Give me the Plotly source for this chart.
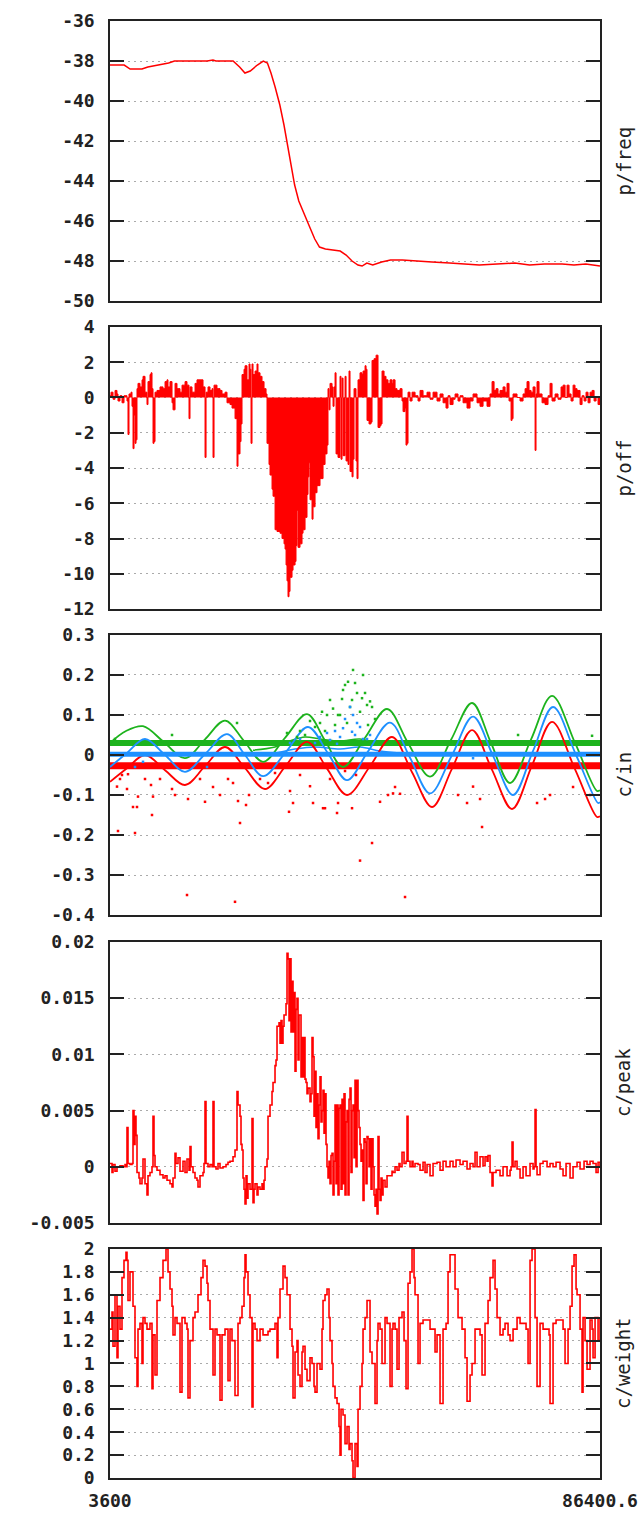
import plotly.graph_objects as go
from plotly.subplots import make_subplots

# ---------------- data ----------------
X_START = 3600
X_END = 86400.6

# panel 1: p/freq
freq_t = [3600, 6000, 7000, 9000, 10000, 12000, 13500, 14500, 20000, 21000, 21500, 24400, 25500, 26400,
          27300, 28500, 29500, 30200, 30800, 31500, 32300, 33000, 33700, 34200, 34800, 35500, 36300, 37200,
          38200, 39000, 40000, 42500, 43500, 44500, 45500, 46200, 47000, 48000, 49500, 51000, 53000, 55000,
          58000, 61000, 64000, 66000, 69000, 72000, 74500, 77000, 80000, 82000, 84000, 86400]
freq_v = [-38.2, -38.2, -38.4, -38.4, -38.3, -38.2, -38.1, -38.0, -38.0, -37.95, -38.0, -38.0, -38.3, -38.6,
          -38.5, -38.2, -38.0, -38.1, -38.6, -39.3, -40.2, -41.2, -42.3, -43.2, -44.2, -45.0, -45.6, -46.2,
          -46.9, -47.3, -47.4, -47.5, -47.7, -48.0, -48.2, -48.25, -48.1, -48.2, -48.05, -47.95, -47.95, -48.0,
          -48.05, -48.1, -48.15, -48.2, -48.15, -48.1, -48.2, -48.15, -48.15, -48.2, -48.15, -48.25]

# panel 2: p/off
off_t = [3600, 3770, 4110, 4450, 4780, 4950, 5290, 5630, 5970, 6470, 6640, 6810, 7150, 7320, 7490, 7660, 7830,
         8000, 8160, 8330, 8670, 9010, 9180, 9520, 9850, 10020, 10360, 10530, 10700, 10870, 11040, 11210, 11540,
         12050, 12560, 12900, 13230, 13400, 13740, 14080, 14250, 14590, 14920, 15430, 15770, 16280, 16610, 16950,
         17120, 17460, 17970, 18300, 18810, 19320, 19660, 19830, 20160, 20500, 20840, 21010, 21180, 21680, 22190,
         22530, 23040, 23370, 23880, 24220, 24730, 25060, 25230, 25570, 25740, 25910, 26250, 26420, 26750, 27090,
         27260, 27430, 27600, 27770, 28110, 28440, 28610, 28950, 29290, 29630, 29970, 30130, 30470, 30640, 30980,
         31150, 31490, 31820, 32330, 32670, 33010, 33180, 33350, 33510, 33680, 33850, 34020, 34360, 34530, 34870,
         35030, 35200, 35370, 35710, 36050, 36220, 36560, 36890, 37060, 37230, 37400, 37740, 37910, 38250, 38580,
         39090, 39600, 39940, 40270, 40440, 40610, 40780, 41120, 41290, 41460, 41630, 41800, 42130, 42470, 42640,
         42810, 42980, 43320, 43490, 43820, 43990, 44160, 44500, 44670, 44840, 45170, 45340, 45510, 45850, 46190,
         46360, 46700, 46870, 47030, 47370, 47710, 47880, 48220, 48560, 48720, 48890, 49230, 49400, 49570, 49910,
         50240, 50580, 50920, 51260, 51430, 51770, 52100, 52610, 52950, 53120, 53460, 53620, 53790, 53960, 54300,
         54640, 55150, 55650, 55990, 56500, 57170, 57680, 58190, 58860, 59370, 59880, 60380, 60720, 61060, 61570,
         61910, 62410, 62750, 63260, 63930, 64440, 64950, 65620, 66130, 66640, 67310, 67820, 68160, 68500, 68830,
         69170, 69510, 70020, 70360, 70690, 71030, 71370, 71540, 71710, 72380, 72890, 73400, 73740, 74070, 74410,
         74750, 75090, 75430, 75590, 75760, 76100, 76610, 77110, 77620, 77960, 78300, 78810, 79310, 79820, 80160,
         80500, 80830, 81170, 81510, 81850, 82180, 82520, 83030, 83370, 83710, 84040, 84380, 84720, 85060, 85400,
         85740, 86070, 86400]
off_v = [0.1, 0.3, -0.1, 0.4, 0.2, -0.2, 0.1, -0.3, 0.1, -0.2, -2.1, 0.2, 0.3, -0.5, -2.9, -1.0, -2.6,
         -2.4, 0.5, 0.8, 0.6, 1.0, 1.2, 0.3, -0.4, 0.9, 1.3, 1.4, 0.5, -2.6, -2.5, 0.3, 0.4,
         0.6, 0.5, 0.9, 1.0, 0.6, 0.9, -0.3, -0.7, 0.8, 0.5, 0.3, 0.7, 0.9, 0.7, -1.2,
         0.6, 0.3, 0.8, 1.0, 1.0, 0.6, -3.4, 0.3, 0.6, 0.4, 0.5, -3.4, 0.7, 0.5, 0.4,
         0.2, 0.3, -0.3, -0.4, -0.6, -1.2, -3.9, -3.2, -2.5, -1.5, 1.3, 1.6, 1.8, 1.0, 1.9,
         1.6, -2.6, 1.9, 1.3, 1.5, 1.9, 1.4, 1.2, 0.9, 0.5, 0.2, -2.6, -3.8, -4.4, -5.2,
         -5.6, -7.5, -7.6, -7.7, -8.0, -8.3, -8.6, -9.5, -10.4, -11.3, -11.0, -10.2, -9.8, -9.5, -9.3,
         -8.4, -6.4, -8.5, -8.3, -7.7, -7.5, -6.8, -5.5, -4.5, -3.7, -5.8, -6.9, -6.2, -5.4, -5.0,
         -4.6, -3.8, -3.2, -2.7, 0.5, -0.7, 0.8, 0.6, -0.5, 0.6, 1.4, -3.2, -3.4, 1.2, -3.5,
         1.1, -3.3, 1.2, -3.6, -3.8, 1.5, -4.2, -4.5, -3.5, 0.5, -3.6, -4.6, 1.0, 1.4, 1.3,
         1.5, 1.8, 1.6, -1.3, -1.5, -1.4, 2.1, 2.2, 2.4, 2.4, -1.7, -1.6, -1.5, 1.5, 1.2,
         1.0, 0.8, 1.0, 0.8, 1.0, 0.5, 0.4, 0.5, -0.2, -0.8, -0.6, -2.7, -2.6, 0.3, -0.2,
         0.3, 0.1, -0.2, 0.4, 0.1, 0.3, -0.1, 0.3, -0.2, 0.2, -0.3, -0.6, 0.1, -0.4, -0.1,
         0.2, -0.2, 0.1, -0.3, -0.6, -0.2, 0.2, -0.3, -0.5, -0.2, -0.5, 0.2, 0.9, 0.4, 0.5,
         0.2, 0.4, 0.6, 0.3, 0.8, -0.2, -1.3, -1.2, 0.2, 0.0, -0.2, 0.2, 0.5, 0.9, 0.4,
         0.3, 0.6, -3.0, 0.2, 0.9, 0.2, -0.3, -0.4, 0.1, 0.8, -0.2, 0.2, -0.1, 0.6, 0.7,
         0.0, 0.7, 0.2, -0.2, 0.7, 0.5, 0.4, -0.4, 0.1, -0.2, 0.3, -0.3, 0.3, 0.4, -0.2,
         0.0, -0.4, -0.2]

# panel 3: c/in  (three channels: wave, flat band, scattered samples)
in_green_t = [3600, 6304, 9177, 12726, 16275, 19655, 23035, 26246, 29457, 33175, 36893, 39935, 42977,
              46695, 50413, 53962, 57680, 61229, 64778, 67989, 71200, 74749, 78298, 82185, 85903, 86400]
in_green_v = [0.03, 0.06, 0.072, 0.032, -0.008, 0.039, 0.086, 0.035, -0.017, 0.043, 0.102, 0.036, -0.03,
              0.043, 0.115, 0.03, -0.054, 0.038, 0.13, 0.03, -0.07, 0.039, 0.148, 0.03, -0.09, -0.088]
in_blue_t = [3600, 6473, 9515, 12895, 16275, 19824, 23373, 26415, 29457, 33344, 37062, 40442, 43653,
             47202, 50920, 54300, 57680, 61398, 64947, 68327, 71707, 75087, 78467, 82354, 86072, 86400]
in_blue_v = [-0.03, 0.005, 0.04, 0.0, -0.042, 0.005, 0.052, 0.0, -0.053, 0.008, 0.07, 0.004, -0.063,
             0.009, 0.081, -0.007, -0.096, 0.0, 0.096, -0.002, -0.1, 0.01, 0.12, 0.0, -0.12, -0.118]
in_red_t = [3600, 6473, 9515, 12895, 16275, 19655, 23035, 26415, 29795, 33344, 36893, 40273, 43653,
            47540, 51258, 54638, 58018, 61398, 64778, 68158, 71538, 74918, 78298, 82185, 85903, 86400]
in_red_v = [-0.067, -0.033, 0.0, -0.038, -0.075, -0.028, 0.02, -0.033, -0.085, -0.026, 0.033, -0.034, -0.1,
            -0.028, 0.045, -0.043, -0.13, -0.034, 0.062, -0.037, -0.135, -0.026, 0.083, -0.036, -0.155, -0.153]

band_t = [3600, 86400.6]
green_band_v = [0.03, 0.03]
blue_band_v = [0.002, 0.002]
red_band_v = [-0.027, -0.027]

green_mid_t = [27767, 31485, 34020, 36555, 39090, 42470, 45850, 48385]
green_mid_v = [0.012, 0.02, 0.035, 0.045, 0.04, 0.035, 0.04, 0.03]
blue_mid_t = [27767, 31485, 34865, 38245, 42470, 45850, 49230, 52610]
blue_mid_v = [0.0, 0.005, 0.015, 0.02, 0.015, 0.02, 0.01, 0.005]

red_dot_t = [4783, 4952, 6473, 7487, 8163, 7825, 8332, 10698, 10867, 10529, 14078, 16782, 16613, 19655,
             21007, 22190, 24387, 24725, 25232, 25570, 26584, 27091, 33851, 34020, 34527, 37907, 37400,
             39597, 41963, 44498, 45850, 47878, 49230, 53455, 51427, 52610, 66468, 63933, 64947, 39935,
             42132, 50582, 75763, 77960, 51765, 62412, 81847, 12050, 14585, 28950, 31485, 35710, 40780,
             45174, 5290, 5628, 6642, 9515, 18810, 23542, 30302, 43315, 66130, 77115, 84720]
red_dot_v = [-0.079, -0.19, -0.085, -0.13, -0.13, -0.195, -0.104, -0.15, -0.104, -0.075, -0.085, -0.11,
             -0.35, -0.117, -0.08, -0.1, -0.07, -0.367, -0.115, -0.17, -0.125, -0.1, -0.142, -0.09, -0.12,
             -0.12, -0.078, -0.133, -0.145, -0.133, -0.264, -0.22, -0.117, -0.355, -0.096, -0.097, -0.18,
             -0.12, -0.079, -0.133, -0.12, -0.1, -0.12, -0.1, -0.08, -0.1, -0.08, -0.06, -0.1, -0.06,
             -0.045, -0.05, -0.06, -0.05, -0.06, -0.05, -0.048, -0.06, -0.06, -0.06, -0.07, -0.04,
             -0.11, -0.11, -0.1]
green_dot_t = [44667, 46357, 43822, 43315, 45343, 46695, 40780, 42808, 44498, 47540, 39428, 41287, 42470,
               45850, 41625, 43653, 39090, 47202, 25063, 33513, 42977, 46188, 47033, 40273, 42132, 47878,
               72552, 85058, 4445, 14078, 44160, 45005, 38245, 35710, 37400, 39935, 48385, 35203, 36555,
               27598]
green_dot_v = [0.2125, 0.2, 0.183, 0.175, 0.155, 0.155, 0.1375, 0.14, 0.1375, 0.134, 0.108, 0.116, 0.1,
               0.108, 0.075, 0.08, 0.08, 0.075, 0.08, 0.055, 0.1625, 0.142, 0.125, 0.1, 0.1, 0.12,
               0.05, 0.048, 0.04, 0.05, 0.12, 0.18, 0.07, 0.06, 0.085, 0.06, 0.09, 0.045, 0.05,
               0.03]
blue_dot_t = [44160, 44667, 42977, 44498, 40780, 45850, 41963, 47033, 38245, 45343, 42470, 46357, 40273,
              64947, 9177, 7825, 19993, 43315, 45005, 39090, 35710, 34020, 47540, 41625]
blue_dot_v = [0.12, 0.1, 0.067, 0.058, 0.0375, 0.07, 0.028, 0.04, 0.03, 0.08, 0.045, 0.04, 0.055,
              -0.008, -0.017, -0.03, -0.03, 0.09, 0.05, 0.045, 0.04, 0.03, 0.05, 0.06]

# panel 4: c/peak
peak_t = [3600, 3938, 4107, 4445, 4783, 5290, 5797, 6135, 6304, 6473, 6642, 6980, 7318, 7487, 7656, 7825,
          7994, 8163, 8501, 8670, 9008, 9177, 9515, 9853, 10022, 10360, 10698, 10867, 11036, 11205, 11543,
          12050, 12557, 12895, 13233, 13740, 14078, 14247, 14585, 14754, 15092, 15430, 15937, 16275, 16613,
          16951, 17120, 17289, 17627, 17965, 18303, 18472, 18810, 19317, 19486, 19655, 19824, 20162, 20500,
          20838, 21007, 21176, 21514, 21852, 22190, 22697, 23204, 23542, 23880, 24387, 24725, 25063, 25232,
          25570, 25739, 25908, 26077, 26246, 26415, 26584, 26753, 26922, 27260, 27598, 27767, 27936, 28105,
          28443, 28612, 28950, 29288, 29457, 29626, 29795, 29964, 30133, 30302, 30640, 30978, 31147, 31485,
          31654, 31823, 32161, 32330, 32499, 32668, 32837, 33006, 33175, 33344, 33513, 33682, 33851, 34020,
          34189, 34358, 34527, 34696, 34865, 35034, 35203, 35372, 35541, 35710, 35879, 36048, 36217, 36386,
          36555, 36724, 36893, 37062, 37400, 37569, 37738, 37907, 38076, 38245, 38414, 38583, 38752, 38921,
          39090, 39259, 39428, 39597, 39766, 39935, 40104, 40273, 40442, 40611, 40780, 40949, 41118, 41287,
          41456, 41625, 41794, 41963, 42132, 42301, 42470, 42639, 42808, 42977, 43146, 43315, 43484, 43653,
          43822, 43991, 44160, 44329, 44498, 44667, 44836, 45005, 45174, 45343, 45512, 45681, 45850, 46019,
          46188, 46357, 46526, 46695, 46864, 47033, 47202, 47371, 47540, 47709, 47878, 48047, 48216, 48385,
          48554, 48723, 48892, 49061, 49230, 49399, 49568, 49737, 50075, 50413, 50920, 51258, 51427, 51765,
          52103, 52441, 52610, 52948, 53286, 53624, 53793, 53962, 54300, 54638, 54807, 55145, 55652, 55990,
          56497, 56835, 57173, 57680, 58187, 58863, 59370, 59877, 60384, 61060, 61567, 62074, 62750, 63257,
          63933, 64440, 64947, 65285, 65623, 66130, 66637, 66975, 67313, 67482, 67820, 68158, 68327, 68834,
          69510, 70017, 70693, 71200, 71369, 71538, 71707, 72045, 72383, 72890, 73397, 73904, 74580, 75087,
          75256, 75425, 75594, 75763, 76270, 76777, 77453, 77960, 78467, 78974, 79650, 80157, 80664, 81340,
          81847, 82523, 83030, 83706, 84213, 84720, 85227, 85734, 86072, 86400]
peak_v = [0.0003, -0.0005, 0.0002, -0.0004, 0.0, 0.0001, 0.0, 0.0002, 0.0, 0.0035, 0.0003, 0.0002, 0.0003,
          0.005, 0.002, 0.0045, 0.0028, -0.0005, -0.001, -0.0015, -0.001, 0.0007, -0.0015, -0.0025, -0.0008,
          -0.0005, 0.0, 0.0045, 0.001, 0.0, -0.0003, -0.0007, -0.001, -0.0008, -0.0012, -0.0015, -0.0018,
          -0.001, 0.0012, 0.0003, 0.0008, -0.0004, 0.0005, -0.0005, 0.0007, -0.0003, 0.0018, 0.0, -0.0005,
          -0.001, -0.0012, -0.0018, -0.0008, -0.0005, 0.0003, 0.0058, 0.0003, 0.0, 0.0002, 0.0, 0.0058, 0.0,
          -0.0002, 0.0003, -0.0001, 0.0, 0.0002, 0.0004, 0.0005, 0.0009, 0.0015, 0.0067, 0.0055, 0.0045,
          0.002, 0.0015, -0.001, -0.002, -0.0033, -0.0008, -0.0028, -0.0015, -0.002, 0.0043, -0.0032, -0.002,
          -0.0015, -0.0025, -0.0018, -0.002, -0.0015, -0.002, -0.0012, 0.0, 0.0, 0.0007, 0.0045, 0.0055,
          0.0067, 0.0075, 0.009, 0.0095, 0.0125, 0.0128, 0.011, 0.013, 0.011, 0.0125, 0.0135, 0.0135, 0.0145,
          0.019, 0.0185, 0.013, 0.0185, 0.012, 0.0165, 0.012, 0.0155, 0.0085, 0.014, 0.015, 0.0095, 0.0135,
          0.0135, 0.008, 0.0115, 0.008, 0.0115, 0.0078, 0.0075, 0.0065, 0.007, 0.0058, 0.0065, 0.0115,
          0.0098, 0.0045, 0.0085, 0.0035, 0.0065, 0.0025, 0.0055, 0.008, 0.004, 0.005, 0.0068, 0.003, 0.0065,
          0.002, 0.0, -0.001, 0.0005, -0.0015, 0.001, 0.0012, -0.0025, 0.0005, 0.0055, -0.0015, 0.0055,
          -0.0025, 0.0052, 0.0055, -0.002, 0.006, -0.0015, 0.0065, -0.0025, 0.004, 0.005, -0.0025, 0.006,
          0.007, -0.0005, 0.005, 0.0055, 0.0008, 0.0077, 0.0, 0.0077, 0.005, 0.0035, 0.002, 0.0005, 0.0015,
          -0.003, 0.0025, 0.0022, -0.0015, 0.0027, 0.0025, 0.0, 0.0025, -0.002, 0.0025, 0.0, -0.0025,
          -0.0035, -0.002, -0.0042, 0.0027, -0.002, -0.003, -0.001, -0.0025, -0.0012, -0.0018, -0.0008,
          -0.0008, -0.0004, -0.0005, 0.0, -0.0003, 0.0003, 0.0, 0.0013, 0.0003, 0.0005, 0.0045, 0.0005, 0.0,
          0.0005, 0.0, 0.0003, 0.0002, -0.0003, 0.0004, -0.0005, 0.0002, -0.0008, 0.0003, 0.0004, -0.0003,
          0.0005, 0.0, 0.0005, 0.0, 0.0006, 0.0002, 0.0005, -0.0002, 0.0003, 0.0, 0.0013, 0.0, 0.0009,
          0.0001, 0.0009, 0.0005, 0.001, -0.0005, -0.0017, -0.0005, -0.0003, -0.0008, 0.0, -0.0008, -0.0003,
          0.0, 0.0022, 0.0, 0.0005, -0.0002, -0.001, 0.0, -0.0008, 0.0003, -0.0002, 0.0, 0.0051, 0.0,
          -0.0007, 0.0003, 0.0005, 0.0, 0.0003, 0.0, 0.0004, -0.0002, -0.0008, 0.0003, -0.001, 0.0, 0.0004,
          -0.0002, 0.0005, 0.0002, 0.0005, 0.0003, -0.0005, 0.0004, 0.0]

# panel 5: c/weight
weight_t = [3600, 3938, 4107, 4445, 4783, 4952, 5290, 5628, 5966, 6304, 6473, 6642, 6980, 7487, 7825, 8163,
            8332, 8670, 9008, 9177, 9515, 9853, 10360, 10698, 10867, 11205, 11543, 12050, 12557, 13064, 13402,
            13740, 14078, 14247, 14585, 14923, 15430, 15768, 16275, 16613, 16782, 17120, 17627, 17965, 18472,
            18979, 19317, 19655, 19993, 20162, 20500, 21007, 21345, 21683, 22190, 22528, 23035, 23542, 23880,
            24218, 24725, 25232, 25570, 25908, 26246, 26415, 26584, 26922, 27260, 27598, 27767, 28105, 28443,
            28950, 29457, 29795, 30302, 30640, 31147, 31485, 31823, 31992, 32330, 32837, 33175, 33513, 34020,
            34358, 34527, 34865, 35203, 35372, 35710, 36048, 36217, 36555, 36893, 37400, 37738, 38076, 38245,
            38583, 39090, 39428, 39597, 39935, 40273, 40611, 40780, 41118, 41287, 41625, 41963, 42301, 42470,
            42639, 42977, 43315, 43653, 43991, 44160, 44498, 44667, 45005, 45343, 45512, 45850, 46188, 46357,
            46695, 47033, 47202, 47540, 47878, 48385, 48723, 48892, 49230, 49568, 50075, 50413, 50920, 51258,
            51427, 51765, 52103, 52441, 52948, 53286, 53624, 53962, 54300, 54638, 54976, 55145, 55652, 55990,
            56497, 57173, 57680, 58187, 58525, 58863, 59370, 59877, 60384, 60722, 61060, 61398, 61905, 62412,
            63088, 63595, 63933, 64440, 64778, 65285, 65623, 66130, 66468, 66975, 67482, 67820, 68327, 68665,
            69003, 69510, 70017, 70355, 70862, 71200, 71707, 72383, 72890, 73397, 73904, 74242, 74580, 74918,
            75425, 75763, 76270, 76777, 77453, 77791, 77960, 78467, 78974, 79650, 80157, 80495, 81002, 81340,
            81678, 82016, 82354, 82523, 83030, 83368, 83537, 83875, 84213, 84720, 85058, 85227, 85565, 85903,
            86072, 86400]
weight_v = [1.3, 1.45, 1.15, 1.6, 1.05, 1.5, 1.3, 1.75, 1.9, 1.97, 1.9, 1.55, 1.8, 1.5, 1.05, 0.8,
            1.3, 1.35, 1.0, 1.4, 1.35, 1.3, 1.35, 0.78, 1.25, 0.9, 1.55, 1.75, 1.9, 2.0, 1.8,
            1.65, 1.5, 1.25, 1.4, 1.35, 0.75, 1.4, 1.35, 1.3, 0.7, 1.2, 1.4, 1.45, 1.6,
            1.75, 1.9, 1.85, 1.7, 1.55, 1.3, 0.9, 1.3, 1.25, 0.68, 1.25, 1.3, 0.85, 1.3,
            1.2, 0.72, 1.35, 1.4, 1.5, 1.75, 1.95, 1.8, 1.6, 1.4, 0.62, 1.35, 1.3, 1.2,
            1.3, 1.25, 1.25, 1.28, 1.3, 1.3, 1.35, 1.05, 1.4, 1.65, 1.85, 1.75, 1.6, 1.3,
            1.15, 0.7, 1.1, 1.2, 0.9, 0.8, 1.1, 1.15, 0.95, 0.85, 1.05, 1.0, 0.8, 0.75,
            1.0, 0.95, 1.3, 1.55, 1.6, 1.65, 1.4, 1.2, 1.0, 0.8, 0.7, 0.65, 0.45, 0.2,
            0.6, 0.55, 0.3, 0.45, 0.25, 0.3, 0.15, 0.0, 0.3, 0.1, 0.6, 0.8, 1.0, 1.3,
            1.4, 1.55, 1.55, 1.1, 1.0, 0.65, 1.2, 1.35, 1.3, 1.0, 1.4, 1.35, 0.8, 1.3,
            1.35, 1.3, 0.95, 1.4, 1.45, 1.2, 0.78, 1.7, 1.8, 2.0, 1.75, 1.6, 1.0, 1.35,
            1.38, 1.38, 1.3, 1.3, 1.1, 1.25, 0.65, 1.3, 1.35, 1.8, 1.95, 1.95, 1.65, 1.4,
            1.3, 1.05, 0.67, 0.9, 1.0, 1.3, 1.3, 1.25, 0.9, 1.35, 1.55, 1.75, 1.9, 1.65,
            1.4, 1.25, 1.3, 1.35, 1.25, 1.2, 1.3, 1.4, 1.35, 1.35, 1.3, 1.0, 1.9, 2.0,
            1.4, 0.8, 1.35, 1.3, 1.3, 1.25, 0.65, 1.35, 1.38, 1.38, 1.3, 1.0, 1.3, 1.5,
            1.85, 1.95, 1.65, 1.6, 1.3, 0.75, 1.4, 1.2, 0.95, 1.38, 1.3, 1.05, 1.4, 1.4,
            1.2, 1.4]

# axis ticks / labels
p1_ticks = [-50, -48, -46, -44, -42, -40, -38, -36]
p1_text = ["-50", "-48", "-46", "-44", "-42", "-40", "-38", "-36"]
p2_ticks = [-12, -10, -8, -6, -4, -2, 0, 2, 4]
p2_text = ["-12", "-10", "-8", "-6", "-4", "-2", "0", "2", "4"]
p3_ticks = [-0.4, -0.3, -0.2, -0.1, 0, 0.1, 0.2, 0.3]
p3_text = ["-0.4", "-0.3", "-0.2", "-0.1", "0", "0.1", "0.2", "0.3"]
p4_ticks = [-0.005, 0, 0.005, 0.01, 0.015, 0.02]
p4_text = ["-0.005", "0", "0.005", "0.01", "0.015", "0.02"]
p5_ticks = [0, 0.2, 0.4, 0.6, 0.8, 1, 1.2, 1.4, 1.6, 1.8, 2]
p5_text = ["0", "0.2", "0.4", "0.6", "0.8", "1", "1.2", "1.4", "1.6", "1.8", "2"]
x_ticks = [X_START, X_END]
x_text = ["3600", "86400.6"]
panel_names = ["p/freq", "p/off", "c/in", "c/peak", "c/weight"]

# ---------------- figure ----------------
RED = "#ff0000"
GREEN = "#1db31d"
BLUE = "#1e90ff"
FONT = "DejaVu Sans Mono"

fig = make_subplots(rows=5, cols=1)

fig.add_trace(go.Scatter(x=freq_t, y=freq_v, mode="lines", line=dict(color=RED, width=1.5)),
              row=1, col=1)
fig.add_trace(go.Scatter(x=off_t, y=off_v, mode="lines", line=dict(color=RED, width=1, shape="hv"),
                         fill="tozeroy", fillcolor=RED), row=2, col=1)

# c/in
for t, v, c, w in [(band_t, green_band_v, GREEN, 6), (band_t, red_band_v, RED, 7)]:
    fig.add_trace(go.Scatter(x=t, y=v, mode="lines", line=dict(color=c, width=w)), row=3, col=1)
for t, v, c in [(green_mid_t, green_mid_v, GREEN), (blue_mid_t, blue_mid_v, BLUE)]:
    fig.add_trace(go.Scatter(x=t, y=v, mode="lines", line=dict(color=c, width=1.5, shape="spline")),
                  row=3, col=1)
for t, v, c in [(in_green_t, in_green_v, GREEN), (in_red_t, in_red_v, RED), (in_blue_t, in_blue_v, BLUE)]:
    fig.add_trace(go.Scatter(x=t, y=v, mode="lines", line=dict(color=c, width=1.8, shape="spline")),
                  row=3, col=1)
fig.add_trace(go.Scatter(x=band_t, y=blue_band_v, mode="lines", line=dict(color=BLUE, width=5)), row=3, col=1)
for t, v, c in [(red_dot_t, red_dot_v, RED), (green_dot_t, green_dot_v, GREEN), (blue_dot_t, blue_dot_v, BLUE)]:
    fig.add_trace(go.Scatter(x=t, y=v, mode="markers",
                             marker=dict(color=c, size=2.5, symbol="square", line=dict(width=0))),
                  row=3, col=1)

fig.add_trace(go.Scatter(x=peak_t, y=peak_v, mode="lines", line=dict(color=RED, width=1.6, shape="hv")),
              row=4, col=1)
fig.add_trace(go.Scatter(x=weight_t, y=weight_v, mode="lines", line=dict(color=RED, width=1.6, shape="hv")),
              row=5, col=1)

domains = [[0.8078, 1.0], [0.5964, 0.7900], [0.3864, 0.5786], [0.1750, 0.3679], [0.0, 0.1572]]
yranges = [[-50, -36], [-12, 4], [-0.4, 0.3], [-0.005, 0.02], [0, 2]]
yticks = [(p1_ticks, p1_text), (p2_ticks, p2_text), (p3_ticks, p3_text), (p4_ticks, p4_text),
          (p5_ticks, p5_text)]

tickfont = dict(family=FONT, size=18, color="#222222", weight="bold")
for i in range(5):
    r = i + 1
    fig.update_yaxes(row=r, col=1, domain=domains[i], range=yranges[i],
                     tickvals=yticks[i][0], ticktext=yticks[i][1],
                     ticks="inside", ticklen=14, tickwidth=1.5, tickcolor="#222222",
                     showline=True, linecolor="#222222", linewidth=1.5, mirror="allticks",
                     showgrid=True, gridcolor="#aaaaaa", gridwidth=1.3, griddash="2px,4px",
                     zeroline=False, tickfont=tickfont, ticklabelstandoff=10, automargin=False)
    fig.update_xaxes(row=r, col=1, range=[X_START, X_END], showgrid=False, zeroline=False,
                     showline=True, linecolor="#222222", linewidth=1.5, mirror=True,
                     ticks="", showticklabels=(r == 5), tickvals=x_ticks, ticktext=x_text,
                     tickfont=tickfont, ticklabelstandoff=6, automargin=False)

annotations = []
for i, name in enumerate(panel_names):
    annotations.append(dict(text=name, xref="paper", yref="paper", x=1.048,
                            y=(domains[i][0] + domains[i][1]) / 2, xanchor="center", yanchor="middle",
                            textangle=-90, showarrow=False,
                            font=dict(family=FONT, size=19, color="#222222")))

fig.update_layout(width=641, height=1516, margin=dict(l=110, r=41, t=21, b=38),
                  paper_bgcolor="white", plot_bgcolor="white", showlegend=False,
                  annotations=annotations)

fig.write_html("out.html")
